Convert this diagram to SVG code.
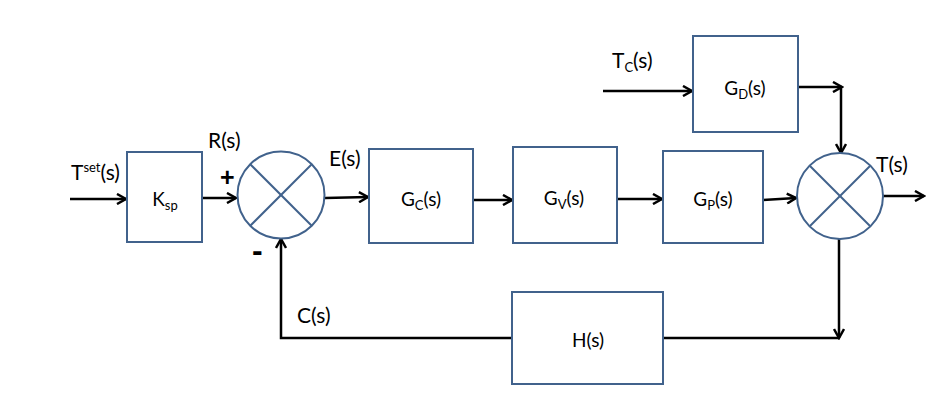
<svg xmlns="http://www.w3.org/2000/svg" width="942" height="406" viewBox="0 0 942 406">
<defs>
<marker id="arr" markerWidth="12" markerHeight="12" refX="10" refY="6" orient="auto" markerUnits="userSpaceOnUse">
<path d="M1,1 L10,6 L1,11" fill="none" stroke="#000" stroke-width="2.5"/>
</marker>
<style>
.box{fill:#fff;stroke:#41628c;stroke-width:2}
.sum{fill:#fff;stroke:#41628c;stroke-width:2}
.x{stroke:#41628c;stroke-width:2}
.ln{fill:none;stroke:#000;stroke-width:2.5}
.t{font-family:Lato,"Liberation Sans",sans-serif;font-size:21px;fill:#000}
.b{font-family:Lato,"Liberation Sans",sans-serif;font-size:19px;fill:#000;text-anchor:middle}
.s{font-size:13px}
.pm{font-family:"Liberation Sans",sans-serif;font-weight:bold;fill:#000}
</style>
</defs>
<rect width="942" height="406" fill="#fff"/>
<g id="connectors">
<line class="ln" x1="70" y1="199" x2="126" y2="199" marker-end="url(#arr)"/>
<line class="ln" x1="202" y1="198" x2="236" y2="198" marker-end="url(#arr)"/>
<line class="ln" x1="325" y1="198" x2="368" y2="197" marker-end="url(#arr)"/>
<line class="ln" x1="473" y1="200" x2="512" y2="200" marker-end="url(#arr)"/>
<line class="ln" x1="617" y1="199" x2="662" y2="199" marker-end="url(#arr)"/>
<line class="ln" x1="763" y1="200" x2="796" y2="198" marker-end="url(#arr)"/>
<line class="ln" x1="883" y1="196" x2="924" y2="196" marker-end="url(#arr)"/>
<line class="ln" x1="603" y1="91" x2="692" y2="91" marker-end="url(#arr)"/>
<line class="ln" x1="798" y1="87" x2="842" y2="87" marker-end="url(#arr)"/>
<line class="ln" x1="841" y1="87" x2="841" y2="153" marker-end="url(#arr)"/>
<line class="ln" x1="839" y1="239" x2="839" y2="338" marker-end="url(#arr)"/>
<line class="ln" x1="663" y1="338" x2="839" y2="338"/>
<polyline class="ln" points="512,338 281,338 281,239" marker-end="url(#arr)"/>
</g>
<g id="ksp">
<rect class="box" x="127" y="152" width="75" height="90"/>
<text class="b" x="165" y="206">K<tspan class="s" dy="4">sp</tspan></text>
</g>
<g id="sum1">
<circle class="sum" cx="281" cy="195" r="43.5"/>
<line class="x" x1="250" y1="164" x2="312" y2="226"/>
<line class="x" x1="312" y1="164" x2="250" y2="226"/>
</g>
<g id="gc">
<rect class="box" x="369" y="149" width="104" height="94"/>
<text class="b" x="421" y="206">G<tspan class="s" dy="4">C</tspan><tspan dy="-4">(s)</tspan></text>
</g>
<g id="gv">
<rect class="box" x="513" y="147" width="104" height="96"/>
<text class="b" x="564" y="205">G<tspan class="s" dy="4">V</tspan><tspan dy="-4">(s)</tspan></text>
</g>
<g id="gp">
<rect class="box" x="663" y="151" width="100" height="92"/>
<text class="b" x="713" y="206">G<tspan class="s" dy="4">P</tspan><tspan dy="-4">(s)</tspan></text>
</g>
<g id="gd">
<rect class="box" x="693" y="36" width="105" height="96"/>
<text class="b" x="745" y="95">G<tspan class="s" dy="4">D</tspan><tspan dy="-4">(s)</tspan></text>
</g>
<g id="sum2">
<circle class="sum" cx="840" cy="196" r="43"/>
<line class="x" x1="810" y1="166" x2="870" y2="226"/>
<line class="x" x1="870" y1="166" x2="810" y2="226"/>
</g>
<g id="h">
<rect class="box" x="512" y="292" width="151" height="92"/>
<text class="b" x="588" y="347">H(s)</text>
</g>
<g id="labels">
<text class="t" x="71" y="180">T<tspan class="s" dy="-8">set</tspan><tspan dy="8">(s)</tspan></text>
<text class="t" x="208" y="148">R(s)</text>
<text class="pm" x="220" y="186" style="font-size:25px">+</text>
<text class="pm" x="252" y="261" style="font-size:32px">-</text>
<text class="t" x="329" y="166">E(s)</text>
<text class="t" x="612" y="68">T<tspan class="s" dy="4">C</tspan><tspan dy="-4">(s)</tspan></text>
<text class="t" x="876" y="172">T(s)</text>
<text class="t" x="297" y="323">C(s)</text>
</g>
</svg>
